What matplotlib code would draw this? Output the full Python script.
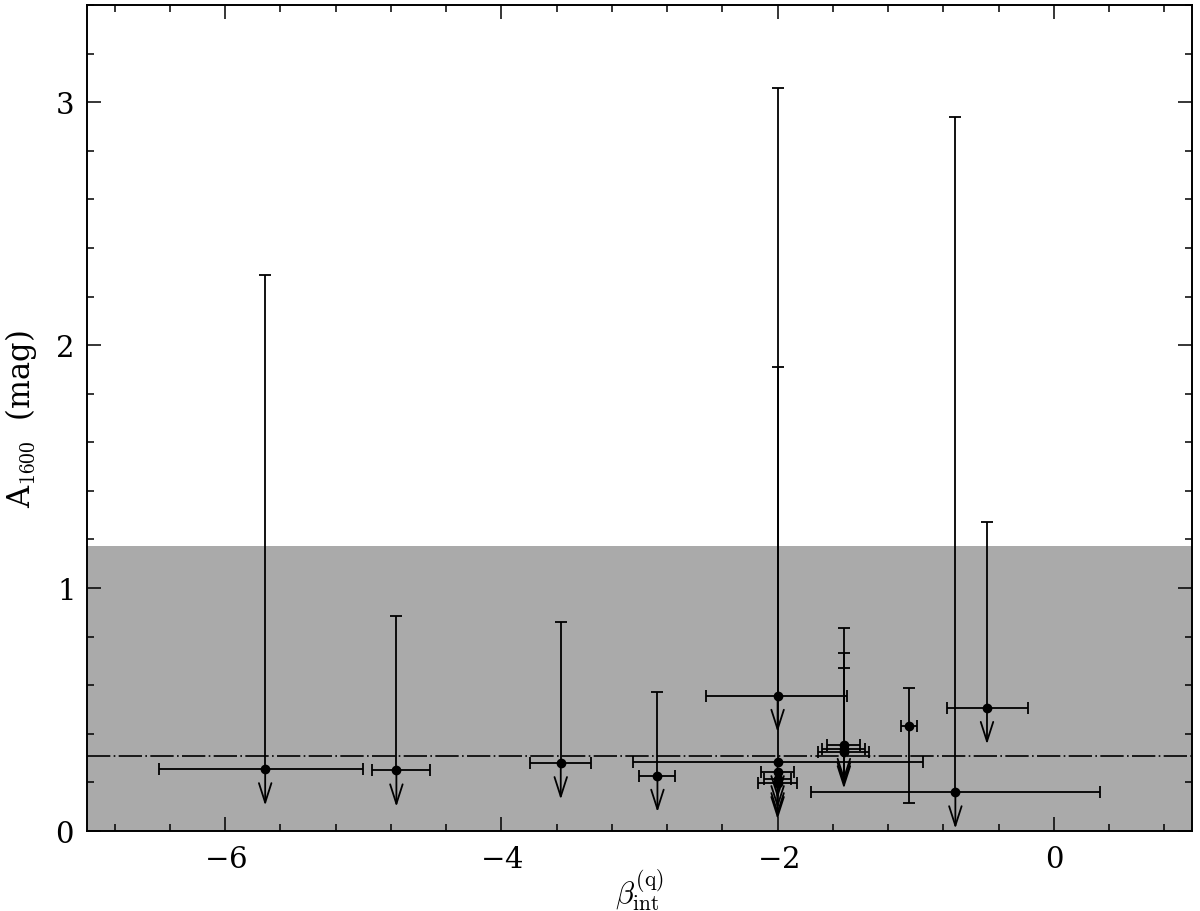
import numpy as np
import matplotlib
matplotlib.use('Agg')
import matplotlib.pyplot as plt
from matplotlib.ticker import MultipleLocator

plt.rcParams['mathtext.fontset'] = 'cm'
plt.rcParams['font.family'] = 'serif'
plt.rcParams['font.serif'] = ['DejaVu Serif']
plt.rcParams['axes.formatter.use_mathtext'] = True

# measured points: beta_int, A1600 and the bar ends
beta = [-5.71, -4.76, -3.57, -2.87, -2.0, -2.0, -2.0, -2.0, -2.0,
        -1.52, -1.52, -1.52, -1.05, -0.713, -0.484]
a1600 = [0.255, 0.250, 0.280, 0.228, 0.557, 0.284, 0.243, 0.214, 0.198,
         0.355, 0.338, 0.325, 0.432, 0.160, 0.507]
beta_lo = [-6.48, -4.94, -3.79, -3.00, -2.515, -3.05, -2.12, -2.10, -2.14,
           -1.64, -1.675, -1.71, -1.11, -1.76, -0.773]
beta_hi = [-5.00, -4.52, -3.35, -2.74, -1.495, -0.95, -1.88, -1.90, -1.86,
           -1.40, -1.367, -1.335, -0.99, 0.337, -0.19]
a_hi = [2.29, 0.885, 0.861, 0.571, 1.91, 3.06, np.nan, np.nan, np.nan,
        0.834, 0.733, 0.670, 0.59, 2.94, 1.274]
a_lo = [np.nan] * 12 + [0.116, np.nan, np.nan]
is_limit = [True] * 12 + [False, True, True]

shade_top = 1.175
mean_line = 0.31

fig = plt.figure(figsize=(12, 9.12), dpi=100)
ax = fig.add_axes([0.0725, 0.0877, 0.9208, 0.9057])

ax.axhspan(0, shade_top, color='#aaaaaa', lw=0, zorder=0)
ax.axhline(mean_line, color='k', lw=1.2, dashes=(14, 2, 1, 2), zorder=1)

lw = 1.3
arrow_len = 0.15
for i in range(len(beta)):
    x, y = beta[i], a1600[i]
    xerr = [[x - beta_lo[i]], [beta_hi[i] - x]]
    if is_limit[i]:
        ax.errorbar([x], [y], xerr=xerr, fmt='o', color='k', ms=6,
                    elinewidth=lw, capsize=4.5, capthick=lw, zorder=3)
        if not np.isnan(a_hi[i]):
            ax.vlines(x, y, a_hi[i], color='k', lw=lw, zorder=2)
            ax.plot([x], [a_hi[i]], marker='_', ms=9, mew=lw, color='k', zorder=2)
        ax.annotate('', xy=(x, y - arrow_len), xytext=(x, y),
                    arrowprops=dict(arrowstyle='->,head_length=1.4,head_width=0.45',
                                    lw=lw, color='k', shrinkA=0, shrinkB=0),
                    zorder=2)
    else:
        yerr = [[y - a_lo[i]], [a_hi[i] - y]]
        ax.errorbar([x], [y], xerr=xerr, yerr=yerr, fmt='o', color='k', ms=6,
                    elinewidth=lw, capsize=4.5, capthick=lw, zorder=3)

ax.set_xlim(-7, 1)
ax.set_ylim(0, 3.4)
ax.xaxis.set_major_locator(MultipleLocator(2))
ax.xaxis.set_minor_locator(MultipleLocator(0.4))
ax.yaxis.set_major_locator(MultipleLocator(1))
ax.yaxis.set_minor_locator(MultipleLocator(0.2))
ax.tick_params(which='both', direction='in', top=True, right=True,
               width=1.1, labelsize=21, pad=10)
ax.tick_params(which='major', length=10)
ax.tick_params(which='minor', length=5)
for s in ax.spines.values():
    s.set_linewidth(1.4)

ax.set_xlabel(r'$\beta^{(\mathrm{q})}_{\mathrm{int}}$', fontsize=22, va='center')
ax.xaxis.set_label_coords(0.5, -0.071)
ax.set_ylabel(r'A$_{1600}$  (mag)', fontsize=22, va='center')
ax.yaxis.set_label_coords(-0.06, 0.5)

fig.savefig('out.png', dpi=100)
